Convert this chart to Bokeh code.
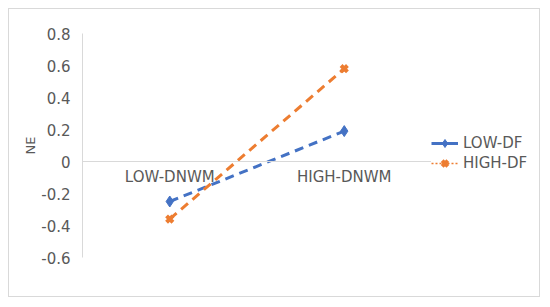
from bokeh.plotting import figure
from bokeh.layouts import row
from bokeh.models import (Range1d, FactorRange, Legend, LegendItem, ColumnDataSource,
                          FixedTicker, CustomJSTickFormatter)
from bokeh.embed import file_html
from bokeh.resources import INLINE

categories = ["LOW-DNWM", "HIGH-DNWM"]
low_df = [-0.25, 0.19]
high_df = [-0.36, 0.58]
y_ticks = [-0.6, -0.4, -0.2, 0, 0.2, 0.4, 0.6, 0.8]

BLUE = "#4472C4"
ORANGE = "#ED7D31"
GRAY = "#595959"
AXIS = "#d9d9d9"
FONT = "DejaVu Sans"

p = figure(width=422, height=287, x_range=FactorRange(*categories), y_range=Range1d(-0.6, 0.8),
           output_backend="svg", toolbar_location=None,
           min_border_left=73, min_border_right=0, min_border_top=24, min_border_bottom=39)
p.outline_line_color = None
p.xgrid.grid_line_color = None
p.ygrid.grid_line_color = None

src_low = ColumnDataSource(dict(x=categories, y=low_df))
src_high = ColumnDataSource(dict(x=categories, y=high_df))

p.line("x", "y", source=src_low, color=BLUE, line_width=3, line_dash="9 6")
p.scatter("x", "y", source=src_low, marker="diamond", size=11, color=BLUE)
p.line("x", "y", source=src_high, color=ORANGE, line_width=3, line_dash="9 6")
p.scatter("x", "y", source=src_high, marker="x", size=9, line_width=4, color=ORANGE)

# y axis
ya = p.yaxis[0]
ya.ticker = FixedTicker(ticks=y_ticks)
ya.formatter = CustomJSTickFormatter(code="return Math.abs(tick) < 1e-9 ? '0' : tick.toFixed(1);")
ya.major_tick_line_color = None
ya.major_tick_out = 0
ya.minor_tick_line_color = None
ya.axis_line_color = AXIS
ya.major_label_text_font = FONT
ya.major_label_text_font_size = "15px"
ya.major_label_text_color = GRAY
ya.major_label_standoff = 12
ya.axis_label = "NE"
ya.axis_label_text_font = FONT
ya.axis_label_text_font_size = "13px"
ya.axis_label_text_color = GRAY
ya.axis_label_text_font_style = "normal"
ya.axis_label_standoff = 0

# x axis at zero
xa = p.xaxis[0]
xa.fixed_location = 0
xa.axis_line_color = AXIS
xa.major_tick_line_color = None
xa.major_tick_out = 0
xa.minor_tick_line_color = None
xa.major_label_text_font = FONT
xa.major_label_text_font_size = "15px"
xa.major_label_text_color = GRAY
xa.major_label_standoff = 6

# legend panel
q = figure(width=108, height=287, x_range=Range1d(0, 1), y_range=Range1d(0, 1),
           output_backend="svg", toolbar_location=None, x_axis_type=None, y_axis_type=None,
           min_border=0)
q.outline_line_color = None
q.xgrid.grid_line_color = None
q.ygrid.grid_line_color = None
nan = float("nan")
proxy = ColumnDataSource(dict(x=[nan], y=[nan]))
l1 = q.line("x", "y", source=proxy, color=BLUE, line_width=3)
m1 = q.scatter("x", "y", source=proxy, marker="diamond", size=10, color=BLUE)
l2 = q.line("x", "y", source=proxy, color=ORANGE, line_width=1.5, line_dash="2 2")
m2 = q.scatter("x", "y", source=proxy, marker="x", size=8, line_width=4, color=ORANGE)
legend = Legend(items=[LegendItem(label="LOW-DF", renderers=[l1, m1]),
                       LegendItem(label="HIGH-DF", renderers=[l2, m2])],
                location=(0, 84), padding=0, margin=0, spacing=0,
                glyph_width=27, glyph_height=20, label_height=20, label_standoff=5,
                label_text_font=FONT, label_text_font_size="15px", label_text_color=GRAY,
                border_line_color=None, background_fill_alpha=0)
q.add_layout(legend, "center")

layout = row(p, q, styles={"border": "1px solid #d9d9d9", "margin-left": "8px", "margin-top": "8px"})

open("out.html", "w").write(file_html(layout, INLINE))
